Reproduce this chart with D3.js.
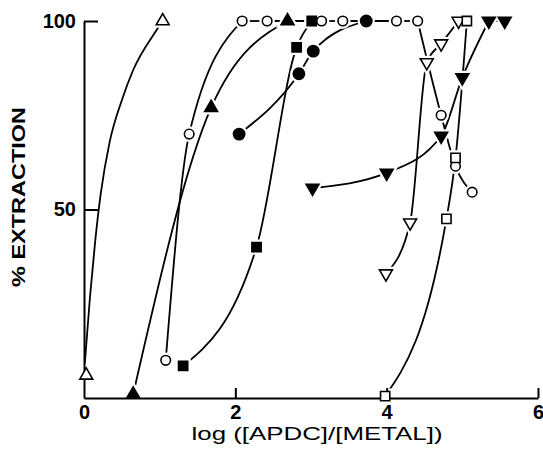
<!DOCTYPE html>
<html>
<head>
<meta charset="utf-8">
<script src="https://cdn.jsdelivr.net/npm/d3@7"></script>
<style>
  body { margin: 0; background: #fff; }
  svg { display: block; }
  text { font-family: "Liberation Sans", Arial, sans-serif; fill: #000; }
</style>
</head>
<body>
<div id="chart"></div>
<script>
// Extraction curves, [log([APDC]/[METAL]), % extraction]
const openTriUp = [[0.03, 6], [1.04, 100]];
// hand drawn fit for the two-point open triangle series
const openTriUpFit = [[0.01, 9], [0.08, 27], [0.15, 42], [0.22, 54], [0.34, 68], [0.5, 79], [0.65, 87], [0.96, 97.6]];
const openCircle = [[1.08, 10], [1.39, 70], [2.09, 100], [2.42, 100], [3.14, 100], [3.42, 100],
  [4.13, 100], [4.41, 100], [4.72, 75], [4.91, 61.5], [5.13, 54.6]];
const filledTriUp = [[0.65, 1], [1.68, 77], [2.69, 100]];
const filledSquare = [[1.31, 8.5], [2.28, 40], [2.81, 93], [3.01, 100]];
const filledCircle = [[2.05, 70], [2.84, 86], [3.03, 92], [3.73, 100]];
const openTriDown = [[3.99, 33], [4.31, 46.5], [4.53, 89], [4.72, 94], [4.95, 100]];
const openSquare = [[3.98, 0.5], [4.79, 47.5], [4.91, 63.7], [5.06, 100]];
const filledTriDown = [[3.02, 55.7], [4.0, 59.7], [4.72, 69.5], [5.0, 85], [5.35, 100], [5.56, 100]];

// Axis ticks
const xTicks = [0, 2, 4, 6];
const yTicks = [50, 100];

const series = [
  { pts: openTriUp, fit: openTriUpFit, shape: 'triUp', filled: false },
  { pts: openCircle, shape: 'circle', filled: false },
  { pts: filledTriUp, shape: 'triUp', filled: true },
  { pts: filledSquare, shape: 'square', filled: true },
  { pts: filledCircle, shape: 'circle', filled: true },
  { pts: openTriDown, shape: 'triDown', filled: false },
  { pts: openSquare, shape: 'square', filled: false },
  { pts: filledTriDown, shape: 'triDown', filled: true },
];

const width = 543;
const height = 452;
const margin = { top: 21, right: 5, bottom: 54, left: 84 };

const svg = d3.select('#chart')
  .append('svg')
  .attr('width', width)
  .attr('height', height);

const x = d3.scaleLinear().domain([0, 6]).range([margin.left, width - margin.right]);
const y = d3.scaleLinear().domain([0, 100]).range([height - margin.bottom, margin.top]);

// split a series so runs along the 100% line are straight and the rest smooth
function pieces(pts) {
  const out = [];
  let cur = [pts[0]];
  for (let i = 1; i < pts.length; i++) {
    const a = pts[i - 1], b = pts[i];
    if (a[1] === 100 && b[1] === 100) {
      if (cur.length > 1) out.push({ pts: cur, curve: d3.curveMonotoneX });
      out.push({ pts: [a, b], curve: d3.curveLinear });
      cur = [b];
    } else {
      cur.push(b);
    }
  }
  if (cur.length > 1) out.push({ pts: cur, curve: d3.curveMonotoneX });
  return out;
}

const lines = svg.append('g')
  .attr('fill', 'none')
  .attr('stroke', '#000')
  .attr('stroke-width', 1.8);

series.forEach((s) => {
  const parts = s.fit ? [{ pts: s.fit.concat([s.pts[s.pts.length - 1]]), curve: d3.curveMonotoneX }] : pieces(s.pts);
  parts.forEach((p) => {
    lines.append('path')
      .attr('d', d3.line().x((d) => x(d[0])).y((d) => y(d[1])).curve(p.curve)(p.pts));
  });
});

// marker shapes
function markerPath(s) {
  if (s.shape === 'circle') return d3.symbol(d3.symbolCircle, s.filled ? 100 : 72)();
  if (s.shape === 'square') return d3.symbol(d3.symbolSquare, 85)();
  return d3.symbol(d3.symbolTriangle, 72)();
}

const marks = [];
series.forEach((s) => s.pts.forEach((d) => marks.push({ d, s })));

function transformOf(m) {
  const rot = m.s.shape === 'triDown' ? ' rotate(180)' : '';
  return `translate(${x(m.d[0])},${y(m.d[1])})${rot}`;
}

// white halos give the small gaps where lines meet the markers
svg.append('g').selectAll('path')
  .data(marks)
  .join('path')
  .attr('d', (m) => markerPath(m.s))
  .attr('transform', transformOf)
  .attr('fill', '#fff')
  .attr('stroke', '#fff')
  .attr('stroke-width', 6);

// axes
const xAxis = d3.axisBottom(x).tickValues(xTicks).tickFormat(d3.format('d'))
  .tickSizeInner(-10).tickSizeOuter(0).tickPadding(7);
const yAxis = d3.axisLeft(y).tickValues(yTicks).tickFormat(d3.format('d'))
  .tickSizeInner(-14).tickSizeOuter(0).tickPadding(8);

const xg = svg.append('g')
  .attr('transform', `translate(0,${y(0)})`)
  .call(xAxis);
const yg = svg.append('g')
  .attr('transform', `translate(${x(0)},0)`)
  .call(yAxis);

[xg, yg].forEach((g) => {
  g.selectAll('path, line').attr('stroke', '#000').attr('stroke-width', 2);
  g.selectAll('text')
    .style('font-family', '"Liberation Sans", Arial, sans-serif')
    .style('font-size', '20px')
    .style('font-weight', 'bold')
    .attr('fill', '#000');
});
xg.selectAll('.tick').filter((d) => d === 0).select('line').remove();

svg.append('g').selectAll('path')
  .data(marks)
  .join('path')
  .attr('d', (m) => markerPath(m.s))
  .attr('transform', transformOf)
  .attr('fill', (m) => (m.s.filled ? '#000' : '#fff'))
  .attr('stroke', '#000')
  .attr('stroke-width', 1.6);

// axis titles
svg.append('text')
  .attr('x', 317)
  .attr('y', 440)
  .attr('text-anchor', 'middle')
  .attr('textLength', 251)
  .attr('lengthAdjust', 'spacingAndGlyphs')
  .style('font-size', '18px')
  .text('log ([APDC]/[METAL])');

svg.append('text')
  .attr('transform', 'translate(25,197) rotate(-90)')
  .attr('text-anchor', 'middle')
  .attr('textLength', 180)
  .attr('lengthAdjust', 'spacingAndGlyphs')
  .style('font-size', '19px')
  .style('font-weight', 'bold')
  .text('% EXTRACTION');
</script>
</body>
</html>
